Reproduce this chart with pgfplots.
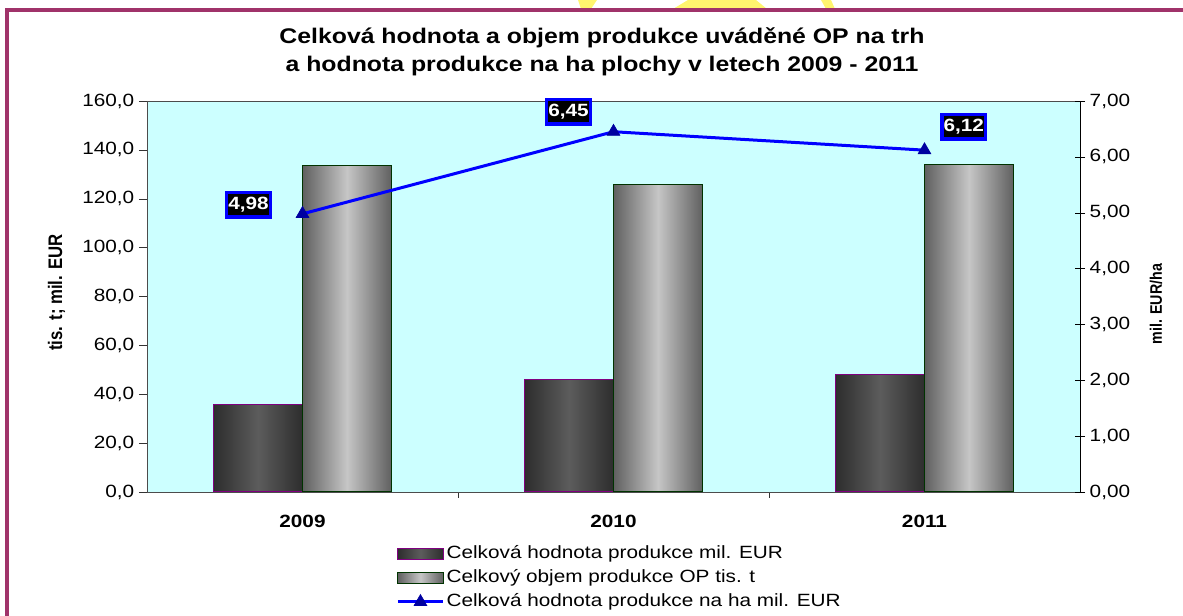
\documentclass[border=0pt]{standalone}
\usepackage{pgfplots}
\pgfplotsset{compat=1.18}
\usepackage{fontspec}
\setmainfont{Liberation Sans}[FakeStretch=1.17]
\newfontfamily\rotsans{Liberation Sans}[FakeStretch=0.855]

\definecolor{framecol}{RGB}{160,51,106}
\definecolor{plotbg}{RGB}{204,255,255}
\definecolor{darkedge}{RGB}{45,45,45}
\definecolor{darkmid}{RGB}{92,92,92}
\definecolor{lightedge}{RGB}{96,96,96}
\definecolor{lightmid}{RGB}{198,198,198}
\definecolor{barpurple}{RGB}{128,0,128}
\definecolor{bargreen}{RGB}{0,51,0}
\definecolor{linecol}{RGB}{0,0,255}
\definecolor{markcol}{RGB}{0,0,160}
\definecolor{wmyellow}{RGB}{255,245,110}

\pgfplotsset{
  barleg/.style={legend image code/.code={\draw[##1] (0pt,-4pt) rectangle (34pt,4pt);}},
  lineleg/.style={legend image code/.code={\draw[mark repeat=2, mark phase=2, ##1] plot coordinates {(0pt,0pt) (17pt,0pt) (34pt,0pt)};}},
  darkbar/.style={ybar, bar shift=-0.143, draw=barpurple, line width=0.75pt,
    left color=darkedge, right color=darkedge, middle color=darkmid, barleg},
  lightbar/.style={ybar, bar shift=0.143, draw=bargreen, line width=0.75pt,
    left color=lightedge, right color=lightedge, middle color=lightmid, barleg},
  haline/.style={draw=linecol, line width=2.25pt, mark=triangle*, mark size=5.5pt,
    mark options={fill=markcol, draw=markcol, line width=0.5pt}},
}

\pgfplotstableread{
x  y     dx      dy
0  4.98  -40.5   6.75
1  6.45  -33.75  15
2  6.12  29.5    17.5
}\haline

\begin{document}
\begin{tikzpicture}
% 1 px of the reference = 0.75pt; y measured upward from the bottom edge
\useasboundingbox (0pt,0pt) rectangle (887.25pt,462pt);
\begin{scope}[x=0.75pt,y=0.75pt]
\begin{scope}
\clip (0,607) rectangle (1183,616);
\fill[wmyellow] (578,616) -- (597,616) -- (591,607) -- (581,607) -- cycle;
\fill[wmyellow] (688,616) -- (756,616) -- (767,607) -- (673,607) -- cycle;
\fill[wmyellow] (821,616) -- (831,616) -- (835,607) -- (826,607) -- cycle;
\end{scope}
\draw[framecol, line width=2.4pt] (7,0) -- (7,606) -- (1183,606);
\node[font=\bfseries\fontsize{15.9}{21}\selectfont, align=center] at (602,564)
  {Celková hodnota a objem produkce uváděné OP na trh\\a hodnota produkce na ha plochy v letech 2009 - 2011};
\end{scope}

\begin{axis}[
  at={(110.25pt,93pt)}, anchor=south west,
  scale only axis, width=699.75pt, height=293.25pt,
  axis background/.style={fill=plotbg},
  axis line style={draw=black!70},
  xmin=-0.5, xmax=2.5, ymin=0, ymax=160,
  xtick={0,1,2}, xticklabels={2009,2010,2011},
  minor xtick={0.5,1.5},
  major x tick style={draw=none},
  minor tick length=4.5pt,
  ytick={0,20,...,160},
  tick pos=left, tick align=outside,
  major tick length=6pt,
  tick style={black!80},
  scaled y ticks=false,
  /pgf/number format/assume math mode=true,
  y tick label style={/pgf/number format/.cd, fixed, fixed zerofill, precision=1, use comma, 1000 sep={}},
  tick label style={font=\fontsize{13.3}{16}\selectfont},
  x tick label style={font=\bfseries\fontsize{13.3}{16}\selectfont, yshift=-8pt},
  ylabel={tis. t; mil. EUR},
  ylabel style={font=\rotsans\bfseries\fontsize{14.7}{17}\selectfont, at={(axis description cs:-0.097,0.51)}, anchor=center},
  bar width=0.286,
  legend style={at={(axis description cs:0.2669,-0.1355)}, anchor=north west, draw=none, fill=none,
    font=\fontsize{13.3}{16}\selectfont, row sep=5pt, inner sep=0pt,
    nodes={inner sep=0pt, text height=10pt, text depth=3pt},
    /tikz/every odd column/.append style={column sep=1.5pt}},
  legend cell align=left,
]
\addplot[darkbar] coordinates {(0,36.0)};
\addlegendentry{Celková hodnota produkce mil. EUR}
\addplot[lightbar] coordinates {(0,133.8)};
\addlegendentry{Celkový objem produkce OP tis. t}
\addplot[darkbar, forget plot] coordinates {(1,46.2)};
\addplot[darkbar, forget plot] coordinates {(2,47.9)};
\addplot[lightbar, forget plot] coordinates {(1,126.0)};
\addplot[lightbar, forget plot] coordinates {(2,134.2)};
\addlegendimage{haline, lineleg}
\addlegendentry{Celková hodnota produkce na ha mil. EUR}
\end{axis}

\begin{axis}[
  at={(110.25pt,93pt)}, anchor=south west,
  scale only axis, width=699.75pt, height=293.25pt,
  axis x line=none, axis y line*=right,
  axis line style={draw=black},
  xmin=-0.5, xmax=2.5, ymin=0, ymax=7,
  ytick={0,1,...,7},
  tick align=center, major tick length=7.5pt,
  tick style={black},
  /pgf/number format/assume math mode=true,
  y tick label style={/pgf/number format/.cd, fixed, fixed zerofill, precision=2, use comma},
  tick label style={font=\fontsize{13.3}{16}\selectfont},
  ylabel={mil. EUR/ha},
  ylabel style={font=\rotsans\bfseries\fontsize{12.5}{15}\selectfont, at={(axis description cs:1.0815,0.48)}, anchor=center},
  clip=false,
]
\addplot[haline,
  nodes near coords={\pgfmathprintnumber[fixed, fixed zerofill, precision=2, use comma, assume math mode=true]{\pgfplotspointmeta}},
  point meta=explicit,
  visualization depends on={\thisrow{dx} \as \dx},
  visualization depends on={\thisrow{dy} \as \dy},
  every node near coord/.append style={anchor=center, xshift=\dx pt, yshift=\dy pt,
    fill=black, draw=linecol, line width=2.6pt, text=white, inner xsep=1.2pt, inner ysep=3.5pt,
    font=\bfseries\fontsize{13.3}{16}\selectfont}]
  table[x=x, y=y, meta=y] {\haline};
\end{axis}
\end{tikzpicture}
\end{document}
